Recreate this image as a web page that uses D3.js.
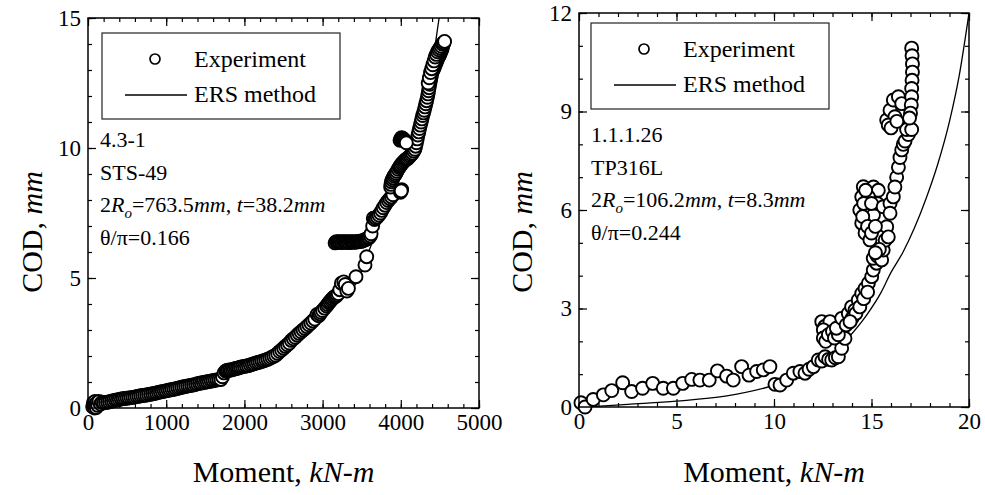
<!DOCTYPE html>
<html><head><meta charset="utf-8">
<script src="https://cdn.jsdelivr.net/npm/d3@7"></script>
<style>
html,body{margin:0;padding:0;background:#fff;}
svg{display:block;}
text{font-family:"Liberation Serif","Times New Roman",serif;fill:#000;}
</style></head>
<body>
<svg id="chart" width="985" height="495"></svg>
<script>
// ---------- DATA ----------
// Left panel: Moment (kN-m) vs COD (mm)
const leftExperiment = [
 [60,0.05],[70,0.2],[80,0.1],[85,0.0],[90,0.25],[100,0.15],[105,0.02],[115,0.2],[125,0.1],[140,0.25],[160,0.15],[180,0.22],
 [200,0.2],[225,0.21],[250,0.22],[275,0.24],[300,0.26],[325,0.28],[350,0.3],[375,0.31],[400,0.33],[425,0.35],[450,0.36],
 [475,0.37],[500,0.38],[525,0.39],[550,0.4],[575,0.41],[600,0.42],[625,0.44],[650,0.45],[675,0.47],[700,0.48],[725,0.49],
 [750,0.5],[775,0.52],[800,0.53],[825,0.55],[850,0.56],[875,0.58],[900,0.6],[925,0.62],[950,0.63],[975,0.65],[1000,0.66],
 [1025,0.68],[1050,0.69],[1075,0.71],[1100,0.72],[1125,0.74],[1150,0.76],[1175,0.78],[1200,0.8],[1225,0.82],[1250,0.83],
 [1275,0.85],[1300,0.86],[1325,0.88],[1350,0.89],[1375,0.91],[1400,0.93],[1425,0.95],[1450,0.96],[1475,0.98],[1500,0.99],
 [1525,1.01],[1550,1.02],[1575,1.04],[1600,1.05],[1625,1.07],[1650,1.08],[1675,1.09],[1700,1.1],[1720,1.2],
 [1740,1.35],[1760,1.42],[1775,1.44],[1790,1.45],[1810,1.46],[1830,1.46],[1850,1.48],[1870,1.5],[1890,1.52],[1910,1.53],
 [1930,1.55],[1950,1.57],[1975,1.59],[2000,1.6],[2025,1.62],[2050,1.63],[2075,1.66],[2100,1.68],[2125,1.7],[2150,1.73],
 [2175,1.75],[2200,1.77],[2225,1.8],[2250,1.82],[2275,1.85],[2300,1.88],[2325,1.91],[2350,1.95],[2375,1.99],[2400,2.03],
 [2425,2.1],[2450,2.17],[2475,2.23],[2500,2.3],[2525,2.37],[2550,2.43],[2575,2.5],[2600,2.6],[2625,2.66],[2650,2.72],
 [2675,2.8],[2700,2.87],[2725,2.93],[2750,3.0],[2775,3.06],[2800,3.13],[2825,3.2],[2850,3.27],[2875,3.35],[2900,3.42],
 [2930,3.6],[2950,3.55],[2965,3.62],[2980,3.68],[3000,3.75],[3025,3.84],[3050,3.92],[3065,3.98],[3080,4.05],[3095,4.1],
 [3110,4.15],[3125,4.2],[3140,4.25],[3155,4.28],[3170,4.3],[3185,4.35],[3200,4.4],[3220,4.55],[3240,4.8],[3270,4.85],
 [3290,4.75],[3310,4.5],[3330,4.6],[3427,5.05],[3542,5.5],[3564,5.82],
 [3160,6.35],[3175,6.4],[3190,6.38],[3205,6.4],[3220,6.37],[3235,6.4],[3250,6.36],[3265,6.4],[3280,6.38],[3295,6.4],
 [3310,6.37],[3325,6.4],[3340,6.36],[3355,6.4],[3370,6.38],[3385,6.4],[3400,6.37],[3415,6.4],[3430,6.38],[3445,6.4],
 [3460,6.41],[3475,6.42],[3490,6.4],[3505,6.42],[3520,6.44],[3535,6.46],[3550,6.48],[3565,6.5],[3580,6.53],[3595,6.56],
 [3610,6.62],[3620,6.7],
 [3640,7.0],[3648,7.3],[3665,7.25],[3680,7.3],[3700,7.35],[3720,7.42],[3740,7.5],[3758,7.6],[3776,7.7],[3798,7.8],
 [3820,7.9],[3840,7.98],[3860,8.05],[3880,8.12],[3900,8.2],[3870,8.5],[3875,8.6],[3880,8.7],[3890,8.78],[3900,8.85],
 [3913,8.92],[3926,8.97],[3938,9.03],[3950,9.1],[3965,9.18],[3980,9.25],[3990,9.3],[4000,9.35],[4015,9.4],[4030,9.45],
 [4045,9.5],[4060,9.55],[4075,9.58],[4090,9.6],[4105,9.65],[4120,9.7],[4135,9.75],[4150,9.8],[4165,9.88],[4180,9.95],
 [4190,10.07],[4200,10.2],[4210,10.35],[4220,10.5],[4230,10.62],[4240,10.75],[4250,10.88],[4260,11.0],[4270,11.12],
 [4280,11.25],[4290,11.35],[4300,11.45],[4310,11.58],[4320,11.7],[4330,11.82],[4340,11.95],[4348,12.08],[4355,12.2],
 [4362,12.32],[4370,12.45],[4378,12.58],[4385,12.7],[4392,12.8],[4400,12.9],[4410,12.98],[4420,13.05],[4430,13.12],
 [4440,13.2],[4450,13.28],[4460,13.35],[4470,13.42],[4480,13.5],[4490,13.55],[4500,13.6],[4510,13.68],[4520,13.75],
 [4528,13.82],[4535,13.9],[4542,13.98],[4550,14.05],
 [4011,8.4],[3995,8.3],[4005,8.35],
 [3990,10.3],[4000,10.35],[4010,10.4],[4020,10.38],[4030,10.35],[4040,10.32],[4050,10.3],[4060,10.25],[4070,10.2],
 [4350,12.5],[4365,12.7],[4380,12.9],[4395,13.05],[4410,13.2],[4425,13.35],[4440,13.5],[4455,13.6],[4470,13.7],
 [4485,13.78],[4500,13.85],[4515,13.92],[4530,14.0],[4545,14.05],[4560,14.1]
];
const leftERS = [
 [100,0],[500,0.28],[1000,0.55],[1500,0.9],[2000,1.4],[2400,2.0],[2800,2.95],[3200,4.2],[3450,4.9],[3600,6.1],
 [3800,7.6],[4000,9.2],[4200,11.0],[4300,11.9],[4400,13.2],[4490,15.0],[4520,15.6]
];
// Right panel
const rightExperiment = [
 [0.1,0.13],[0.31,0.0],[0.73,0.23],[1.25,0.37],[1.68,0.5],[2.24,0.74],[2.7,0.47],[3.26,0.57],[3.78,0.72],[4.32,0.57],
 [4.84,0.57],[5.32,0.72],[5.78,0.84],[6.2,0.82],[6.68,0.82],[7.1,1.1],[7.57,0.94],[7.91,0.82],[8.34,1.23],[8.72,0.97],
 [9.11,1.08],[9.45,1.13],[9.79,1.23],[10.05,0.69],[10.31,0.67],[10.65,0.82],[10.99,1.03],[11.33,1.08],[11.59,1.03],
 [11.8,1.15],[12.02,1.23],[12.27,1.43],[12.45,1.4],[12.62,1.53],[12.8,1.45],[12.96,1.43],[13.15,1.5],[13.3,1.53],
 [13.47,1.79],[13.64,2.09],
 [12.45,2.6],[12.6,2.45],[12.87,2.6],[12.53,2.35],[12.53,2.1],[12.65,2.0],[12.79,2.2],[13.0,2.3],[13.1,2.1],[13.3,2.2],[13.2,2.4],
 [13.47,2.7],[13.81,2.85],[13.98,3.05],[14.15,2.95],[14.32,3.26],[14.5,3.46],[14.67,3.61],[14.84,3.77],[15.01,3.97],
 [15.09,4.17],[15.26,4.38],[14.0,2.7],[14.2,2.85],[14.4,3.05],[14.6,3.3],[14.8,3.5],[13.7,2.5],[13.9,2.6],
 [15.09,4.53],[15.3,4.6],[15.52,4.48],[15.6,4.78],[15.7,5.08],[15.78,5.49],[15.86,5.18],[15.4,4.8],[15.2,4.7],
 [14.58,6.71],[14.5,6.4],[14.4,6.0],[14.5,5.6],[14.67,5.3],[14.92,5.09],[15.1,6.7],[15.35,6.6],[14.84,6.4],[14.76,6.0],
 [14.9,5.7],[15.1,5.85],[14.7,6.6],[14.6,6.2],[14.55,5.8],[14.8,5.5],[15.0,5.3],[15.2,5.5],[15.3,6.2],[15.0,6.2],
 [15.6,6.1],[15.95,6.2],[15.95,5.9],[16.12,6.4],[16.29,7.0],[16.2,6.7],[16.38,7.3],[16.46,7.6],[16.55,7.83],[16.63,8.0],
 [16.72,8.1],[16.89,8.3],[16.8,8.45],
 [15.78,8.74],[15.95,9.04],[16.12,9.35],[16.38,9.45],[16.55,9.24],[16.2,8.84],[15.86,8.59],[16.0,8.5],[16.3,8.7],
 [17.06,10.93],[17.08,10.7],[17.1,10.45],[17.1,10.2],[17.08,9.95],[17.06,9.7],[17.06,9.45],[17.04,9.2],[17.0,8.95],
 [17.06,8.45],[16.95,8.8]
];
const rightERS = [
 [0.5,0],[2.5,0.08],[5.0,0.18],[7.5,0.33],[9.9,0.64],[11,0.85],[12,1.15],[13,1.6],[13.8,2.1],[14.75,2.8],[15.5,3.5],
 [16.0,4.1],[16.6,4.7],[17.2,5.45],[17.8,6.35],[18.4,7.4],[19.0,8.7],[19.5,10.1],[20,12]
];
const leftXTicks = [0,1000,2000,3000,4000,5000];
const leftYTicks = [0,5,10,15];
const rightXTicks = [0,5,10,15,20];
const rightYTicks = [0,3,6,9,12];
const legendLabels = ["Experiment","ERS method"];
const leftNotes = ["4.3-1","STS-49",{D:"763.5",t:"38.2"},"θ/π=0.166"];
const rightNotes = ["1.1.1.26","TP316L",{D:"106.2",t:"8.3"},"θ/π=0.244"];

// ---------- DRAW ----------
const svg = d3.select("#chart");

function panel(cfg){
  const {x0,x1,y0,y1} = cfg.frame;
  const x = d3.scaleLinear().domain(cfg.xDom).range([x0,x1]);
  const y = d3.scaleLinear().domain(cfg.yDom).range([y1,y0]);
  const g = svg.append("g");
  const clipId = "clip"+cfg.id;
  svg.append("clipPath").attr("id",clipId).append("rect")
    .attr("x",x0).attr("y",y0).attr("width",x1-x0).attr("height",y1-y0);

  const styleAxis = sel => { sel.select(".domain").remove(); sel.selectAll("line").attr("stroke","#000").attr("stroke-width",1.2); };
  const fmt = d3.format("d");
  g.append("g").attr("transform",`translate(0,${y1})`)
    .call(d3.axisBottom(x).tickValues(cfg.xMinor).tickSize(-4).tickFormat("")).call(styleAxis);
  g.append("g").attr("transform",`translate(0,${y1})`)
    .call(d3.axisBottom(x).tickValues(cfg.xTicks).tickSize(-8).tickPadding(6).tickFormat(fmt)).call(styleAxis)
    .selectAll("text").attr("font-size",23).attr("fill","#000").attr("dy","0.71em");
  g.append("g").attr("transform",`translate(0,${y0})`)
    .call(d3.axisTop(x).tickValues(cfg.xMinor).tickSize(-4).tickFormat("")).call(styleAxis);
  g.append("g").attr("transform",`translate(0,${y0})`)
    .call(d3.axisTop(x).tickValues(cfg.xTicks).tickSize(-8).tickFormat("")).call(styleAxis);
  g.append("g").attr("transform",`translate(${x0},0)`)
    .call(d3.axisLeft(y).tickValues(cfg.yMinor).tickSize(-4).tickFormat("")).call(styleAxis);
  g.append("g").attr("transform",`translate(${x0},0)`)
    .call(d3.axisLeft(y).tickValues(cfg.yTicks).tickSize(-8).tickPadding(7).tickFormat(fmt)).call(styleAxis)
    .selectAll("text").attr("font-size",23).attr("fill","#000");
  g.append("g").attr("transform",`translate(${x1},0)`)
    .call(d3.axisRight(y).tickValues(cfg.yMinor).tickSize(-4).tickFormat("")).call(styleAxis);
  g.append("g").attr("transform",`translate(${x1},0)`)
    .call(d3.axisRight(y).tickValues(cfg.yTicks).tickSize(-8).tickFormat("")).call(styleAxis);

  // ERS line
  g.append("path").datum(cfg.ers)
    .attr("clip-path",`url(#${clipId})`)
    .attr("fill","none").attr("stroke","#000").attr("stroke-width",1.3)
    .attr("d", d3.line().curve(d3.curveMonotoneX).x(d=>x(d[0])).y(d=>y(d[1])));

  // experiment markers
  g.append("g").selectAll("circle").data(cfg.exp).join("circle")
    .attr("cx",d=>x(d[0])).attr("cy",d=>y(d[1])).attr("r",6.5)
    .attr("fill","#fff").attr("stroke","#000").attr("stroke-width",1.9);

  // frame
  g.append("rect").attr("x",x0).attr("y",y0).attr("width",x1-x0).attr("height",y1-y0)
    .attr("fill","none").attr("stroke","#000").attr("stroke-width",1.5);

  // legend
  const lx = x0+cfg.legend[0], ly = y0+cfg.legend[1];
  const lg = g.append("g");
  lg.append("rect").attr("x",lx).attr("y",ly).attr("width",238).attr("height",86)
    .attr("fill","#fff").attr("stroke","#222").attr("stroke-width",1.2);
  lg.append("circle").attr("cx",lx+53).attr("cy",ly+26).attr("r",5)
    .attr("fill","#fff").attr("stroke","#000").attr("stroke-width",1.7);
  lg.append("text").attr("x",lx+92).attr("y",ly+34).attr("font-size",24).text(legendLabels[0]);
  lg.append("line").attr("x1",lx+23).attr("x2",lx+85).attr("y1",ly+62).attr("y2",ly+62)
    .attr("stroke","#000").attr("stroke-width",1.3);
  lg.append("text").attr("x",lx+92).attr("y",ly+69).attr("font-size",24).text(legendLabels[1]);

  // notes
  const nx = x0+12;
  const baselines = [129,162,194,227];
  cfg.notes.forEach((n,i)=>{
    const t = g.append("text").attr("x",nx).attr("y",y0+baselines[i]).attr("font-size",22);
    if (typeof n === "string") { t.text(n); return; }
    t.append("tspan").text("2");
    t.append("tspan").attr("font-style","italic").text("R");
    t.append("tspan").attr("font-style","italic").attr("font-size",15).attr("dy",6).text("o");
    t.append("tspan").attr("dy",-6).text("="+n.D);
    t.append("tspan").attr("font-style","italic").text("mm");
    t.append("tspan").text(", ");
    t.append("tspan").attr("font-style","italic").text("t");
    t.append("tspan").text("="+n.t);
    t.append("tspan").attr("font-style","italic").text("mm");
  });

  // axis titles
  const xt = g.append("text").attr("x",(x0+x1)/2).attr("y",482).attr("text-anchor","middle").attr("font-size",30);
  xt.append("tspan").text("Moment, ");
  xt.append("tspan").attr("font-style","italic").text("kN-m");
  const yt = g.append("text").attr("transform",`translate(${cfg.yTitleX},232) rotate(-90)`)
    .attr("text-anchor","middle").attr("font-size",30);
  yt.append("tspan").text("COD,  ");
  yt.append("tspan").attr("font-style","italic").text("mm");
}

panel({id:"L", frame:{x0:88,x1:479,y0:18,y1:408}, xDom:[0,5000], yDom:[0,15],
  xTicks:leftXTicks, yTicks:leftYTicks, xMinor:d3.range(0,5001,200), yMinor:d3.range(0,16,1),
  exp:leftExperiment, ers:leftERS, legend:[14,15], notes:leftNotes, yTitleX:42});
panel({id:"R", frame:{x0:579,x1:969,y0:13,y1:407}, xDom:[0,20], yDom:[0,12],
  xTicks:rightXTicks, yTicks:rightYTicks, xMinor:d3.range(0,21,1), yMinor:d3.range(0,13,1),
  exp:rightExperiment, ers:rightERS, legend:[12,10], notes:rightNotes, yTitleX:532});
</script>
</body></html>
